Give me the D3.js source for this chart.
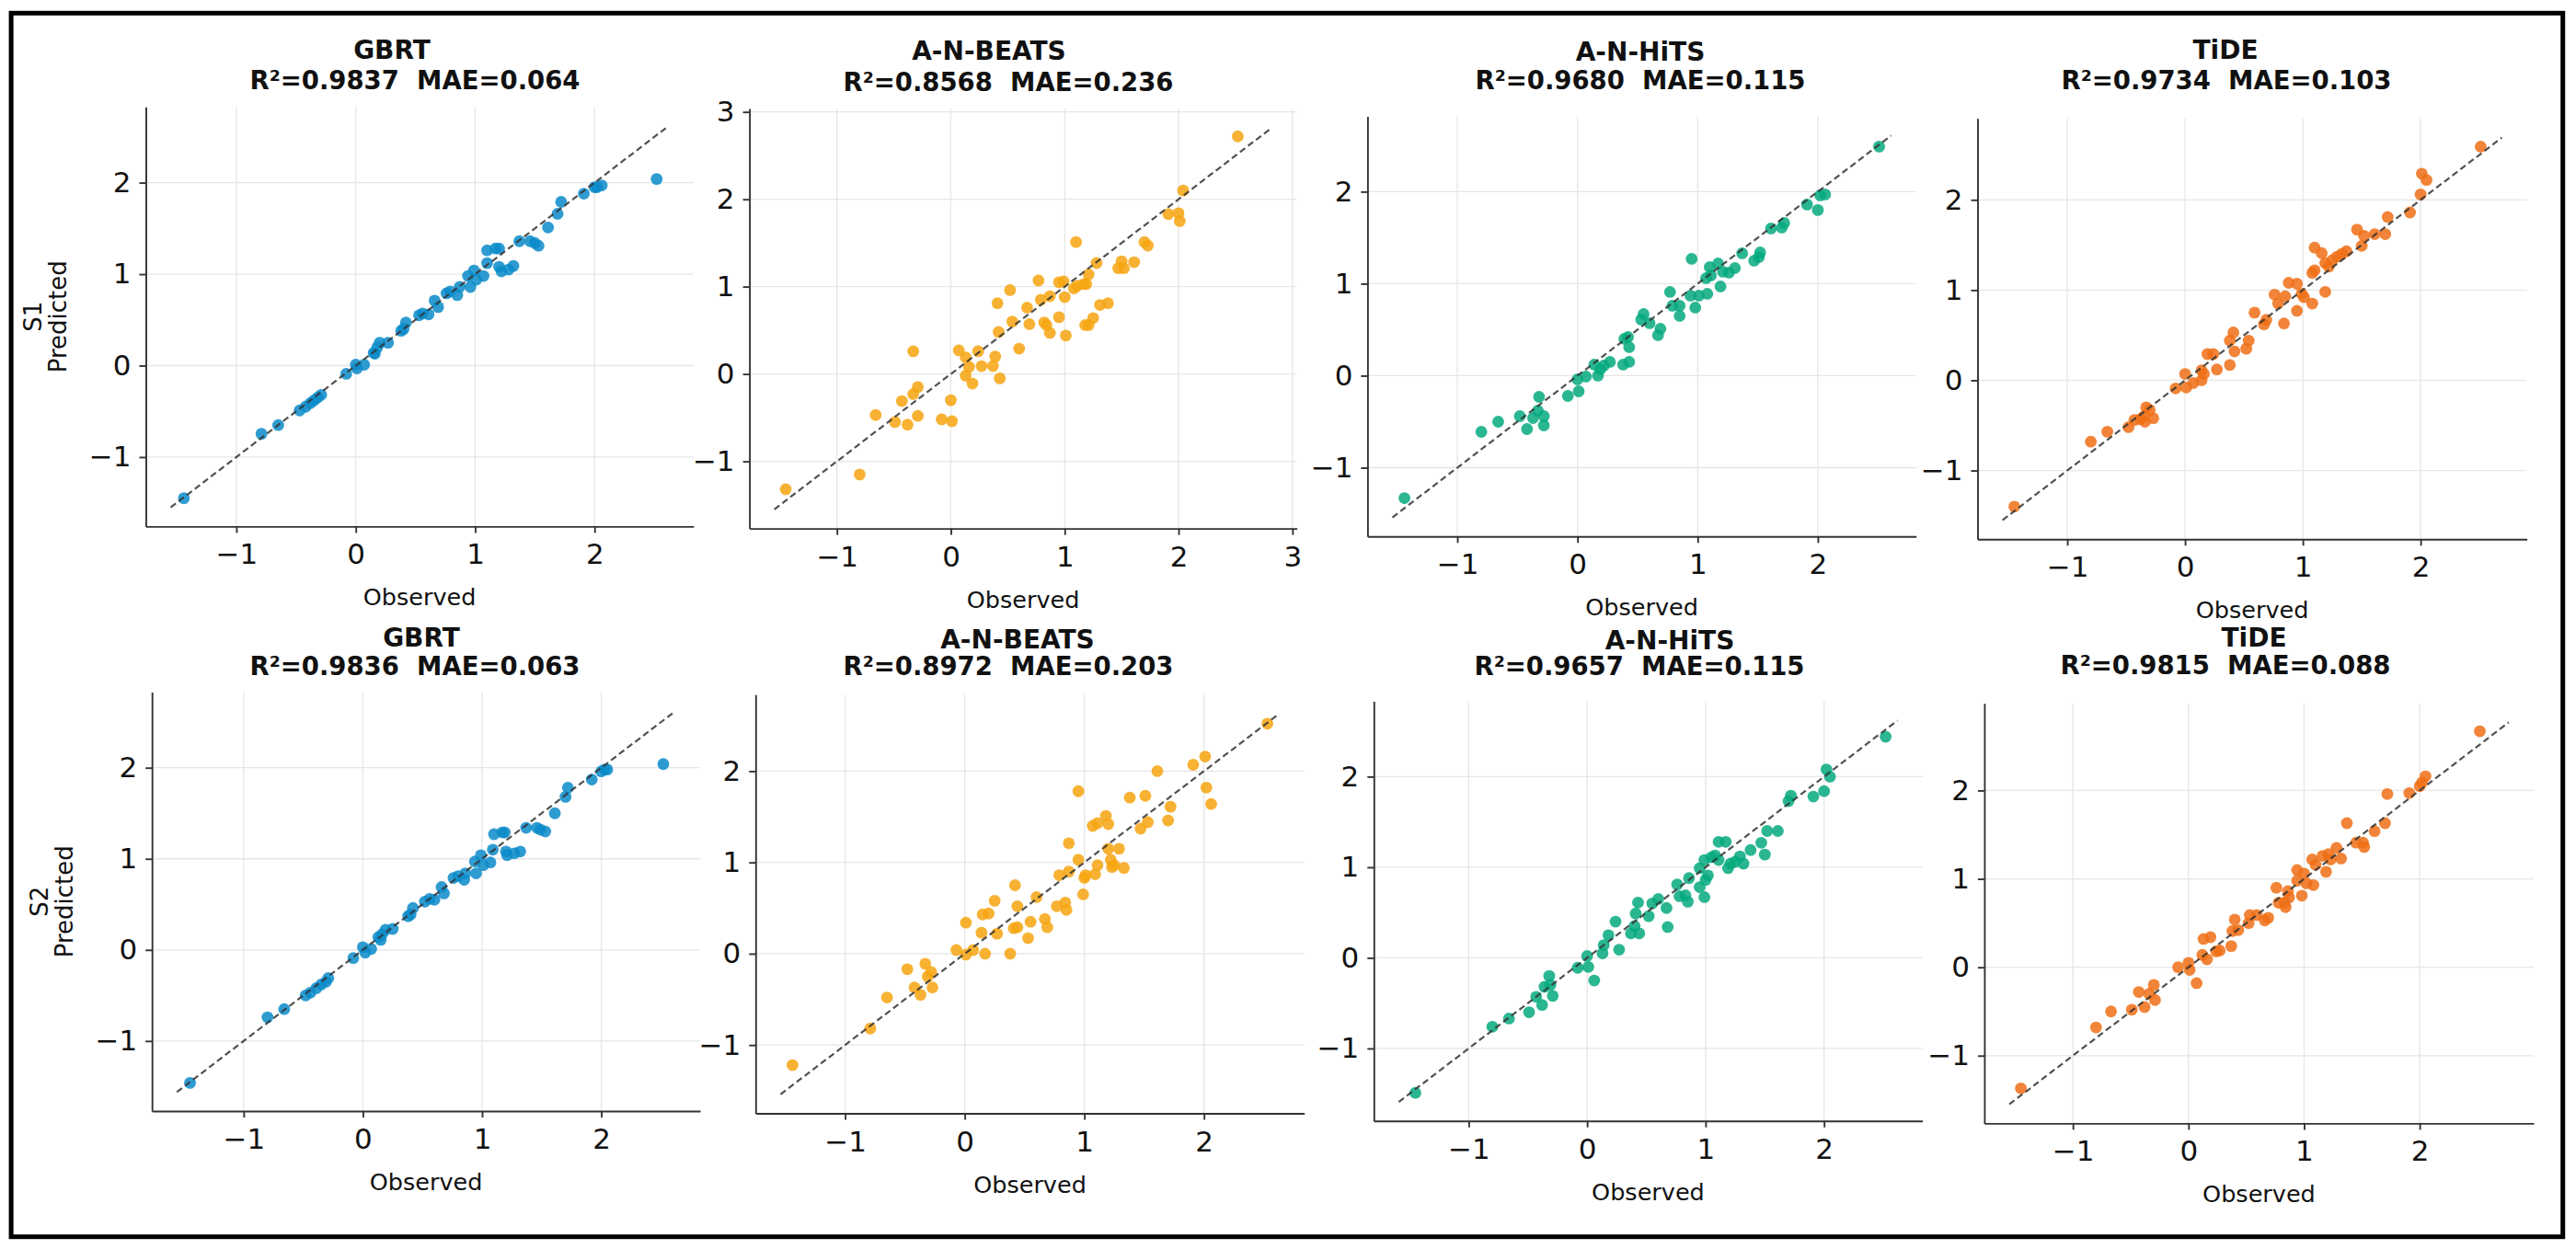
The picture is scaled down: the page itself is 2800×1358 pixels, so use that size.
<!DOCTYPE html>
<html>
<head>
<meta charset="utf-8">
<script src="https://cdn.jsdelivr.net/npm/d3@7"></script>
<style>
  html, body { margin: 0; padding: 0; background: #fff; }
  text { font-family: "DejaVu Sans", sans-serif; white-space: pre; }
</style>
</head>
<body>
<svg id="chart" width="2800" height="1358"></svg>
<script>
// ---------------- DATA ----------------
const models = ["GBRT", "A-N-BEATS", "A-N-HiTS", "TiDE"];
const scenarios = ["S1", "S2"];
const r2Values = [[0.9837, 0.8568, 0.9680, 0.9734], [0.9836, 0.8972, 0.9657, 0.9815]];
const maeValues = [[0.064, 0.236, 0.115, 0.103], [0.063, 0.203, 0.115, 0.088]];
const modelColors = ["#0a8bc9", "#f6a410", "#06a97f", "#ee6f15"];
const axisLabelX = "Observed";
const axisLabelY = "Predicted";

const s1GbrtObs = [-1.44,-0.79,-0.65,-0.47,-0.42,-0.38,-0.35,-0.32,-0.29,-0.08,0.00,0.01,0.07,0.15,0.16,0.18,0.20,0.27,0.38,0.40,0.42,0.53,0.56,0.61,0.66,0.69,0.76,0.79,0.85,0.87,0.94,0.96,0.99,1.01,1.07,1.10,1.10,1.17,1.20,1.20,1.22,1.28,1.32,1.37,1.46,1.50,1.53,1.61,1.69,1.72,1.91,2.00,2.02,2.06,2.52];
const s1GbrtPred = [-1.45,-0.745,-0.65,-0.49,-0.45,-0.41,-0.38,-0.35,-0.32,-0.09,0.01,-0.03,0.01,0.14,0.13,0.20,0.25,0.25,0.38,0.40,0.47,0.55,0.57,0.56,0.71,0.64,0.79,0.81,0.77,0.86,0.98,0.86,1.04,0.94,0.98,1.12,1.26,1.28,1.28,1.08,1.03,1.05,1.09,1.36,1.36,1.34,1.31,1.51,1.66,1.79,1.88,1.95,1.95,1.97,2.04];

const s1BeatsObs = [-1.45,-0.80,-0.66,-0.49,-0.43,-0.38,-0.33,-0.33,-0.29,-0.29,-0.08,0.00,0.01,0.07,0.13,0.13,0.16,0.19,0.24,0.27,0.37,0.39,0.43,0.41,0.42,0.52,0.54,0.60,0.67,0.69,0.77,0.79,0.82,0.84,0.87,0.87,0.95,0.95,0.99,1.00,1.01,1.08,1.10,1.11,1.17,1.19,1.18,1.21,1.21,1.25,1.28,1.31,1.38,1.47,1.50,1.52,1.61,1.70,1.73,1.91,2.00,2.01,2.04,2.52];
const s1BeatsPred = [-1.32,-1.15,-0.47,-0.55,-0.31,-0.58,0.26,-0.23,-0.15,-0.48,-0.52,-0.30,-0.54,0.27,0.19,-0.02,0.08,-0.11,0.26,0.09,0.09,0.20,-0.05,0.81,0.48,0.96,0.60,0.29,0.76,0.57,1.07,0.85,0.59,0.56,0.89,0.47,1.05,0.65,1.06,0.88,0.44,0.98,1.51,1.01,1.03,1.03,0.56,0.56,1.14,0.64,1.27,0.79,0.81,1.21,1.29,1.21,1.28,1.51,1.47,1.83,1.84,1.75,2.10,2.72];

const s1HitsObs = [-1.44,-0.80,-0.66,-0.48,-0.42,-0.37,-0.32,-0.33,-0.28,-0.28,-0.08,0.01,0.00,0.07,0.14,0.17,0.19,0.22,0.27,0.38,0.39,0.42,0.43,0.43,0.53,0.55,0.60,0.67,0.69,0.77,0.79,0.85,0.85,0.94,0.95,0.98,1.01,1.08,1.07,1.10,1.11,1.17,1.19,1.21,1.26,1.31,1.37,1.47,1.51,1.52,1.61,1.70,1.72,1.91,2.00,2.02,2.06,2.51];
const s1HitsPred = [-1.33,-0.61,-0.50,-0.44,-0.58,-0.46,-0.23,-0.38,-0.44,-0.54,-0.22,-0.17,-0.04,-0.01,0.12,0.00,0.07,0.11,0.15,0.12,0.40,0.42,0.15,0.31,0.61,0.67,0.57,0.44,0.51,0.91,0.76,0.65,0.76,0.87,1.27,0.74,0.87,0.89,1.06,1.18,1.09,1.22,0.97,1.13,1.12,1.17,1.33,1.25,1.29,1.34,1.60,1.61,1.66,1.86,1.80,1.96,1.97,2.49];

const s1TideObs = [-1.45,-0.80,-0.66,-0.48,-0.43,-0.38,-0.34,-0.33,-0.30,-0.27,-0.35,-0.08,0.00,0.01,0.07,0.14,0.14,0.16,0.19,0.24,0.27,0.38,0.38,0.41,0.42,0.52,0.54,0.59,0.67,0.69,0.76,0.79,0.84,0.85,0.88,0.95,0.95,0.99,1.01,1.08,1.08,1.10,1.10,1.16,1.19,1.19,1.22,1.25,1.29,1.33,1.37,1.46,1.50,1.52,1.61,1.70,1.72,1.91,2.00,2.01,2.05,2.51];
const s1TidePred = [-1.40,-0.68,-0.57,-0.52,-0.44,-0.43,-0.46,-0.30,-0.33,-0.42,-0.40,-0.09,0.07,-0.08,-0.03,0.00,0.11,0.07,0.29,0.29,0.12,0.17,0.44,0.53,0.32,0.35,0.44,0.75,0.62,0.67,0.95,0.85,0.63,0.93,1.08,1.07,0.77,0.96,0.92,0.85,1.19,1.22,1.47,1.41,0.98,1.30,1.26,1.33,1.37,1.40,1.43,1.67,1.49,1.60,1.62,1.62,1.81,1.86,2.06,2.29,2.22,2.59];

const s2GbrtObs = [-1.45,-0.80,-0.66,-0.48,-0.44,-0.39,-0.35,-0.31,-0.29,-0.08,0.00,0.02,0.07,0.13,0.16,0.19,0.25,0.15,0.38,0.42,0.40,0.52,0.56,0.60,0.66,0.68,0.76,0.80,0.85,0.86,0.94,0.95,0.99,1.01,1.07,1.09,1.10,1.17,1.19,1.20,1.21,1.27,1.32,1.37,1.46,1.49,1.53,1.61,1.70,1.72,1.92,2.00,2.03,2.05,2.52];
const s2GbrtPred = [-1.46,-0.74,-0.65,-0.50,-0.47,-0.42,-0.38,-0.35,-0.31,-0.09,0.03,-0.03,0.01,0.14,0.17,0.22,0.23,0.11,0.37,0.46,0.39,0.53,0.56,0.55,0.69,0.62,0.79,0.81,0.77,0.84,0.97,0.84,1.04,0.93,0.96,1.10,1.27,1.29,1.29,1.08,1.04,1.06,1.08,1.34,1.34,1.32,1.30,1.50,1.68,1.78,1.87,1.96,1.98,1.98,2.04];

const s2BeatsObs = [-1.44,-0.79,-0.65,-0.48,-0.42,-0.37,-0.33,-0.31,-0.28,-0.27,-0.07,0.01,0.01,0.07,0.14,0.15,0.20,0.17,0.25,0.27,0.38,0.41,0.42,0.44,0.44,0.53,0.55,0.60,0.67,0.69,0.77,0.79,0.84,0.85,0.87,0.87,0.95,0.95,0.99,1.00,1.01,1.09,1.11,1.07,1.11,1.18,1.20,1.20,1.22,1.23,1.25,1.29,1.33,1.38,1.47,1.51,1.53,1.61,1.70,1.72,1.91,2.01,2.02,2.06,2.53];
const s2BeatsPred = [-1.22,-0.82,-0.48,-0.17,-0.37,-0.45,-0.11,-0.25,-0.20,-0.37,0.04,-0.01,0.34,0.04,0.23,0.43,0.44,0.00,0.58,0.22,0.00,0.28,0.75,0.29,0.52,0.17,0.35,0.62,0.38,0.29,0.52,0.86,0.56,0.48,1.21,0.90,1.78,1.03,0.65,0.83,0.86,0.87,0.97,1.40,1.43,1.51,1.42,1.15,1.03,0.95,0.97,1.15,0.94,1.71,1.37,1.73,1.44,2.00,1.46,1.61,2.07,2.16,1.82,1.64,2.52];

const s2HitsObs = [-1.45,-0.80,-0.66,-0.49,-0.43,-0.38,-0.36,-0.32,-0.31,-0.29,-0.08,0.00,0.01,0.06,0.13,0.14,0.18,0.24,0.27,0.37,0.40,0.41,0.43,0.44,0.52,0.55,0.60,0.67,0.68,0.76,0.78,0.83,0.85,0.86,0.95,0.95,0.99,1.00,1.02,0.99,1.05,1.08,1.11,1.11,1.17,1.19,1.21,1.25,1.29,1.32,1.38,1.47,1.50,1.52,1.61,1.70,1.72,1.91,2.00,2.02,2.05,2.52];
const s2HitsPred = [-1.49,-0.76,-0.67,-0.60,-0.43,-0.52,-0.32,-0.20,-0.30,-0.42,-0.11,0.02,-0.10,-0.25,0.05,0.14,0.25,0.40,0.09,0.27,0.35,0.49,0.61,0.27,0.46,0.60,0.65,0.55,0.34,0.81,0.68,0.69,0.62,0.88,0.78,0.99,0.67,0.86,0.91,1.08,1.11,1.13,1.08,1.28,1.28,0.99,1.04,1.06,1.12,1.04,1.19,1.27,1.14,1.40,1.40,1.73,1.79,1.78,1.84,2.08,2.00,2.44];

const s2TideObs = [-1.45,-0.80,-0.67,-0.49,-0.43,-0.38,-0.34,-0.30,-0.29,-0.09,0.00,0.01,0.07,0.12,0.13,0.16,0.19,0.24,0.27,0.37,0.38,0.40,0.43,0.52,0.53,0.59,0.66,0.69,0.76,0.78,0.83,0.84,0.87,0.86,0.94,0.94,0.98,1.00,1.02,1.08,1.07,1.10,1.16,1.19,1.21,1.23,1.28,1.32,1.37,1.45,1.51,1.52,1.61,1.70,1.72,1.91,2.00,2.02,2.05,2.52];
const s2TidePred = [-1.37,-0.68,-0.50,-0.48,-0.28,-0.45,-0.30,-0.20,-0.37,0.00,0.05,-0.03,-0.18,0.14,0.32,0.09,0.34,0.18,0.19,0.24,0.41,0.54,0.42,0.50,0.59,0.59,0.53,0.56,0.90,0.73,0.73,0.68,0.79,0.86,1.10,0.98,0.81,1.06,0.95,0.93,1.22,1.16,1.26,1.08,1.28,1.22,1.35,1.23,1.63,1.41,1.41,1.36,1.54,1.63,1.96,1.97,2.05,2.09,2.16,2.67];

const observedSets = [s1GbrtObs, s1BeatsObs, s1HitsObs, s1TideObs, s2GbrtObs, s2BeatsObs, s2HitsObs, s2TideObs];
const predictedSets = [s1GbrtPred, s1BeatsPred, s1HitsPred, s1TidePred, s2GbrtPred, s2BeatsPred, s2HitsPred, s2TidePred];

// ---------------- LAYOUT ----------------
const W = 2800, H = 1358;
// plot-area boxes [left, top, right, bottom]
const panelBoxes = [
  [158.5, 116.2, 753.8, 572.4],
  [814.6, 118.0, 1409.6, 574.6],
  [1486.4, 126.6, 2082.7, 583.3],
  [2149.5, 128.8, 2746.6, 586.3],
  [165.2, 752.6, 761.0, 1208.0],
  [821.3, 755.2, 1417.7, 1210.5],
  [1493.3, 762.6, 2089.6, 1218.8],
  [2156.9, 764.7, 2754.0, 1221.4]
];
// title placement [line1 cx, line2 cx, line1 cy, line2 cy]
const titleLayout = [
  [426, 451, 54, 87],
  [1075, 1096, 55.5, 89],
  [1783, 1783, 56.4, 86.7],
  [2419, 2420, 54.2, 86.7],
  [458, 451, 693, 723.5],
  [1106, 1096, 695, 723.5],
  [1815, 1782, 696, 723.5],
  [2450, 2419, 693, 722.7]
];

const svg = d3.select("#chart");
svg.append("rect").attr("width", W).attr("height", H).attr("fill", "#fff");

const spineColor = "#333";
const fmtR2 = d3.format(".4f");
const fmtMae = d3.format(".3f");

observedSets.forEach((obs, i) => {
  const pred = predictedSets[i];
  const row = Math.floor(i / 4), col = i % 4;
  const box = panelBoxes[i];
  const all = obs.concat(pred);
  const lo = d3.min(all) - 0.1, hi = d3.max(all) + 0.1;
  const m = 0.05 * (hi - lo);
  const dom = [lo - m, hi + m];
  const x = d3.scaleLinear().domain(dom).range([box[0], box[2]]);
  const y = d3.scaleLinear().domain(dom).range([box[3], box[1]]);
  const ticks = d3.range(Math.ceil(dom[0]), Math.floor(dom[1]) + 1);
  const g = svg.append("g");

  // grid
  g.append("g").selectAll("line.gx").data(ticks).join("line")
    .attr("x1", d => x(d)).attr("x2", d => x(d))
    .attr("y1", box[1]).attr("y2", box[3])
    .attr("stroke", "#e6e6e6").attr("stroke-width", 1.3);
  g.append("g").selectAll("line.gy").data(ticks).join("line")
    .attr("y1", d => y(d)).attr("y2", d => y(d))
    .attr("x1", box[0]).attr("x2", box[2])
    .attr("stroke", "#e6e6e6").attr("stroke-width", 1.3);

  // points
  const pts = obs.map((o, k) => ({ o, p: pred[k] }));
  g.append("g").selectAll("circle").data(pts).join("circle")
    .attr("cx", d => x(d.o)).attr("cy", d => y(d.p)).attr("r", 6.4)
    .attr("fill", modelColors[col]).attr("fill-opacity", 0.85);

  // identity line
  g.append("line")
    .attr("x1", x(lo)).attr("y1", y(lo)).attr("x2", x(hi)).attr("y2", y(hi))
    .attr("stroke", "#333").attr("stroke-opacity", 0.85)
    .attr("stroke-width", 2.2).attr("stroke-dasharray", "7,4");

  // axes
  const xa = g.append("g").attr("transform", `translate(0,${box[3]})`)
    .call(d3.axisBottom(x).tickValues(ticks).tickSize(7).tickSizeOuter(0).tickPadding(12).tickFormat(d3.format("d")));
  const ya = g.append("g").attr("transform", `translate(${box[0]},0)`)
    .call(d3.axisLeft(y).tickValues(ticks).tickSize(7).tickSizeOuter(0).tickPadding(9).tickFormat(d3.format("d")));
  [xa, ya].forEach(a => {
    a.select(".domain").attr("stroke", spineColor).attr("stroke-width", 1.9);
    a.selectAll(".tick line").attr("stroke", spineColor).attr("stroke-width", 1.9);
    a.selectAll(".tick text").attr("fill", "#111").style("font-size", "31px")
      .style("font-family", "'DejaVu Sans', sans-serif");
  });

  // x label
  g.append("text").attr("x", (box[0] + box[2]) / 2).attr("y", box[3] + 77)
    .attr("text-anchor", "middle").attr("dominant-baseline", "central")
    .style("font-size", "25.5px").attr("fill", "#111").text(axisLabelX);

  // y labels (first column only)
  if (col === 0) {
    const cy = (box[1] + box[3]) / 2;
    [[scenarios[row], -122.5], [axisLabelY, -95.5]].forEach(([t, dx]) => {
      g.append("text")
        .attr("transform", `translate(${box[0] + dx},${cy}) rotate(-90)`)
        .attr("text-anchor", "middle").attr("dominant-baseline", "central")
        .style("font-size", "26px").attr("fill", "#111").text(t);
    });
  }

  // titles
  const tl = titleLayout[i];
  g.append("text").attr("x", tl[0]).attr("y", tl[2])
    .attr("text-anchor", "middle").attr("dominant-baseline", "central")
    .style("font-size", "28px").style("font-weight", "bold").attr("fill", "#111")
    .text(models[col]);
  g.append("text").attr("x", tl[1]).attr("y", tl[3])
    .attr("text-anchor", "middle").attr("dominant-baseline", "central")
    .style("font-size", "27.5px").style("font-weight", "bold").attr("fill", "#111")
    .text(`R²=${fmtR2(r2Values[row][col])}  MAE=${fmtMae(maeValues[row][col])}`);
});

// outer frame
svg.append("rect").attr("x", 12.1).attr("y", 14.3).attr("width", 2773.6).attr("height", 1330.4)
  .attr("fill", "none").attr("stroke", "#000").attr("stroke-width", 5);
</script>
</body>
</html>
